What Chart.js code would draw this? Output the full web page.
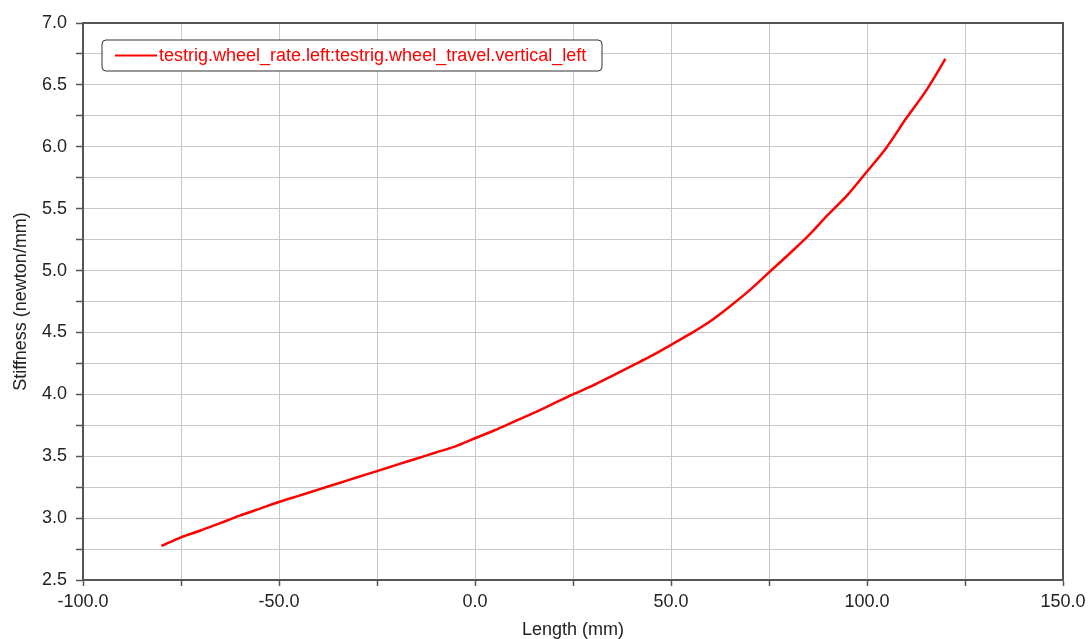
<!DOCTYPE html>
<html>
<head>
<meta charset="utf-8">
<script src="https://cdn.jsdelivr.net/npm/chart.js@4/dist/chart.umd.min.js"></script>
<style>
  html, body { margin: 0; padding: 0; background: #ffffff; }
  #wrap { width: 1088px; height: 639px; position: relative; }
</style>
</head>
<body>
<div id="wrap"><canvas id="c" width="1088" height="639"></canvas></div>
<script>
// Wheel travel (mm) and wheel rate stiffness (newton/mm)
const seriesName = 'testrig.wheel_rate.left:testrig.wheel_travel.vertical_left';
const travel = [
  -80, -75, -70, -65, -60, -55, -50, -45, -40, -35,
  -30, -25, -20, -15, -10, -5, 0, 5, 10, 15,
  20, 25, 30, 35, 40, 45, 50, 55, 60, 65,
  70, 75, 80, 85, 90, 95, 100, 105, 110, 115, 120
];
const stiffness = [
  2.775, 2.845, 2.90, 2.96, 3.02, 3.075, 3.13, 3.18, 3.23, 3.28,
  3.33, 3.38, 3.43, 3.48, 3.53, 3.58, 3.645, 3.71, 3.78, 3.85,
  3.925, 4.00, 4.07, 4.15, 4.23, 4.31, 4.40, 4.49, 4.59, 4.71,
  4.84, 4.985, 5.13, 5.28, 5.45, 5.61, 5.80, 5.995, 6.23, 6.45, 6.71
];
const xRange = { min: -100, max: 150, step: 25, labelEvery: 50 };
const yRange = { min: 2.5, max: 7.0, step: 0.25, labelEvery: 0.5 };
const xTitle = 'Length (mm)';
const yTitle = 'Stiffness (newton/mm)';

const points = travel.map((x, i) => ({ x: x, y: stiffness[i] }));

const FONT = "'Liberation Sans', Arial, sans-serif";
const AXIS = '#555555';
const GRID = '#c8c8c8';
const TEXT = '#222222';

function isMultiple(v, m) {
  const r = Math.abs(v / m - Math.round(v / m));
  return r < 1e-6;
}

// Frame around the plot area and the boxed legend in its top-left corner
const framePlugin = {
  id: 'frameAndLegend',
  afterDraw(chart) {
    const { ctx, chartArea: a } = chart;
    ctx.save();
    ctx.strokeStyle = AXIS;
    ctx.lineWidth = 2;
    ctx.strokeRect(a.left, a.top, a.right - a.left, a.bottom - a.top);

    // legend box
    const ds = chart.data.datasets[0];
    const bx = 102, by = 40, bw = 500, bh = 31, r = 4;
    ctx.beginPath();
    ctx.moveTo(bx + r, by);
    ctx.lineTo(bx + bw - r, by);
    ctx.quadraticCurveTo(bx + bw, by, bx + bw, by + r);
    ctx.lineTo(bx + bw, by + bh - r);
    ctx.quadraticCurveTo(bx + bw, by + bh, bx + bw - r, by + bh);
    ctx.lineTo(bx + r, by + bh);
    ctx.quadraticCurveTo(bx, by + bh, bx, by + bh - r);
    ctx.lineTo(bx, by + r);
    ctx.quadraticCurveTo(bx, by, bx + r, by);
    ctx.closePath();
    ctx.fillStyle = '#ffffff';
    ctx.fill();
    ctx.lineWidth = 1;
    ctx.strokeStyle = '#333333';
    ctx.stroke();

    ctx.beginPath();
    ctx.moveTo(115, 55.5);
    ctx.lineTo(157, 55.5);
    ctx.strokeStyle = ds.borderColor;
    ctx.lineWidth = 2;
    ctx.stroke();

    ctx.fillStyle = ds.borderColor;
    ctx.font = '18px ' + FONT;
    ctx.textBaseline = 'middle';
    ctx.textAlign = 'left';
    ctx.fillText(ds.label, 159, 56);
    ctx.restore();
  }
};

new Chart(document.getElementById('c'), {
  type: 'scatter',
  data: {
    datasets: [{
      label: seriesName,
      data: points,
      showLine: true,
      borderColor: '#ff0000',
      backgroundColor: '#ff0000',
      borderWidth: 2.5,
      pointRadius: 0,
      tension: 0.3,
      fill: false
    }]
  },
  options: {
    responsive: false,
    animation: false,
    events: [],
    layout: { padding: { top: 23, right: 25, left: 0, bottom: 0 } },
    plugins: {
      legend: { display: false },
      tooltip: { enabled: false }
    },
    scales: {
      x: {
        type: 'linear',
        min: xRange.min,
        max: xRange.max,
        afterFit(s) { s.height = 59; s.paddingLeft = 0; s.paddingRight = 0; },
        ticks: {
          stepSize: xRange.step,
          autoSkip: false,
          maxRotation: 0,
          padding: 5,
          color: TEXT,
          font: { family: FONT, size: 18 },
          callback: v => isMultiple(v, xRange.labelEvery) ? v.toFixed(1) : ''
        },
        grid: { color: GRID, lineWidth: 1, tickLength: 6, tickColor: AXIS, tickWidth: 1.5 },
        border: { color: AXIS, width: 2 },
        title: {
          display: true,
          text: xTitle,
          color: TEXT,
          font: { family: FONT, size: 18, lineHeight: 1 },
          padding: { top: 0, bottom: 0 }
        }
      },
      y: {
        type: 'linear',
        min: yRange.min,
        max: yRange.max,
        afterFit(s) { s.width = 83; },
        ticks: {
          stepSize: yRange.step,
          autoSkip: false,
          padding: 9,
          color: TEXT,
          font: { family: FONT, size: 18 },
          callback: v => isMultiple(v, yRange.labelEvery) ? v.toFixed(1) : ''
        },
        grid: { color: GRID, lineWidth: 1, tickLength: 7, tickColor: AXIS, tickWidth: 1.5 },
        border: { color: AXIS, width: 2 },
        title: {
          display: true,
          text: yTitle,
          color: TEXT,
          font: { family: FONT, size: 18, lineHeight: 1 },
          padding: { top: 12, bottom: 0 }
        }
      }
    }
  },
  plugins: [framePlugin]
});
</script>
</body>
</html>
